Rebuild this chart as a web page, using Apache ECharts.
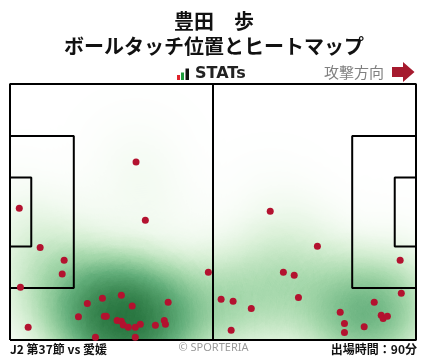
<!DOCTYPE html>
<html><head><meta charset="utf-8">
<script src="https://cdn.jsdelivr.net/npm/echarts@6/dist/echarts.min.js"></script>
<style>html,body{margin:0;padding:0;background:#fff}#c{width:428px;height:359px}</style>
</head><body><div id="c"></div>
<script>
// Touch positions (pitch metres, x: 0-105 attacking right, y: 0-68 from bottom touchline)
const touchX = [32.6,2.4,35.0,7.8,14.0,13.5,2.7,51.3,20.0,23.9,28.8,31.6,40.9,17.7,24.4,24.9,27.7,28.8,29.3,30.6,32.4,33.7,37.6,39.9,40.2,4.7,22.1,32.4,
                67.3,79.5,70.7,73.5,100.9,101.2,54.6,57.7,62.4,74.6,94.2,85.4,96.0,96.5,97.6,86.5,91.6,57.2,86.5];
const touchY = [47.3,35.0,31.8,24.6,21.2,17.5,14.0,18.0,9.7,11.1,11.9,9.0,10.0,6.2,6.3,6.3,5.2,5.0,4.0,3.4,3.4,4.2,3.9,5.2,4.2,3.4,0.7,0.7,
                34.2,24.9,18.0,17.2,21.2,12.4,10.8,10.3,8.4,11.3,10.0,7.4,6.6,5.7,6.3,4.4,3.5,2.6,2.0];
// Pitch markings (metres)
const pitchLines = [
  [[0,0],[105,0],[105,68],[0,68],[0,0]],
  [[52.5,0],[52.5,68]],
  [[0,13.84],[16.5,13.84],[16.5,54.16],[0,54.16]],
  [[105,13.84],[88.5,13.84],[88.5,54.16],[105,54.16]],
  [[0,24.84],[5.5,24.84],[5.5,43.16],[0,43.16]],
  [[105,24.84],[99.5,24.84],[99.5,43.16],[105,43.16]]
];
const titleName = '豊田　歩';
const titleSub = 'ボールタッチ位置とヒートマップ';
const footLeft = 'J2 第37節 vs 愛媛';
const footMid = '© SPORTERIA';
const footRight = '出場時間：90分';
const dirLabel = '攻撃方向';

echarts.registerMap('pitch', {type:'FeatureCollection', features:[{type:'Feature', properties:{name:'pitch'},
  geometry:{type:'Polygon', coordinates:[[[0,0],[105,0],[105,68],[0,68],[0,0]]]}}]});

const chart = echarts.init(document.getElementById('c'), null, {renderer:'canvas'});
const touches = touchX.map((x,i)=>[x, touchY[i]]);
const heat = touches.map(p=>[p[0], p[1], 1]);
const CJK = '"Noto Sans CJK JP", "Noto Sans", sans-serif';

const series = [];
series.push({type:'heatmap', coordinateSystem:'geo', geoIndex:0, data:heat, pointSize:28, blurSize:75, z:1, silent:true});
pitchLines.forEach(l=>series.push({type:'line', data:l, symbol:'none', lineStyle:{color:'#000', width:2}, silent:true, z:3, animation:false}));
series.push({type:'scatter', data:touches, symbolSize:7, itemStyle:{color:'#b3122f', opacity:1}, z:5, silent:true});

chart.setOption({
  animation:false,
  backgroundColor:'#fff',
  geo:{map:'pitch', left:10, top:84, width:406, height:256, aspectScale:1.0271, roam:false, silent:true,
       itemStyle:{areaColor:'rgba(0,0,0,0)', borderWidth:0}, label:{show:false}, emphasis:{disabled:true}, select:{disabled:true}, z:0},
  visualMap:{type:'continuous', show:false, min:0, max:2.0, seriesIndex:0,
       inRange:{color:['#dff2d9','#bfe6b5','#8fd287','#4fb25a','#17873a','#046020','#003c12']}},
  grid:{left:10, top:84, width:406, height:256, show:false},
  xAxis:{type:'value', min:0, max:105, show:false},
  yAxis:{type:'value', min:0, max:68, show:false},
  series:series,
  graphic:[
    {type:'text', x:214, y:21, style:{text:titleName, font:'bold 20px '+CJK, fill:'#111', align:'center', verticalAlign:'middle'}},
    {type:'text', x:214, y:46, style:{text:titleSub, font:'bold 20px '+CJK, fill:'#111', align:'center', verticalAlign:'middle'}},
    {type:'rect', shape:{x:177, y:75, width:3, height:5}, style:{fill:'#e0232b'}},
    {type:'rect', shape:{x:181, y:72.5, width:3, height:7.5}, style:{fill:'#1e9b3c'}},
    {type:'rect', shape:{x:185.5, y:68.5, width:3.5, height:11.5}, style:{fill:'#111'}},
    {type:'text', x:195, y:74, style:{text:'STATs', font:'bold 16px "DejaVu Sans", sans-serif', fill:'#222', align:'left', verticalAlign:'middle'}},
    {type:'text', x:384, y:72, style:{text:dirLabel, font:'15px '+CJK, fill:'#808080', align:'right', verticalAlign:'middle'}},
    {type:'polygon', shape:{points:[[392,67],[403,67],[403,62],[414.5,72],[403,82],[403,77],[392,77]]}, style:{fill:'#a61a2e'}},
    {type:'text', x:10, y:349, style:{text:footLeft, font:'bold 12px '+CJK, fill:'#111', align:'left', verticalAlign:'middle'}},
    {type:'text', x:213.5, y:348, style:{text:footMid, font:'11px "Noto Sans", sans-serif', fill:'#999', align:'center', verticalAlign:'middle'}},
    {type:'text', x:417, y:349, style:{text:footRight, font:'bold 12px '+CJK, fill:'#111', align:'right', verticalAlign:'middle'}}
  ]
});
</script></body></html>
